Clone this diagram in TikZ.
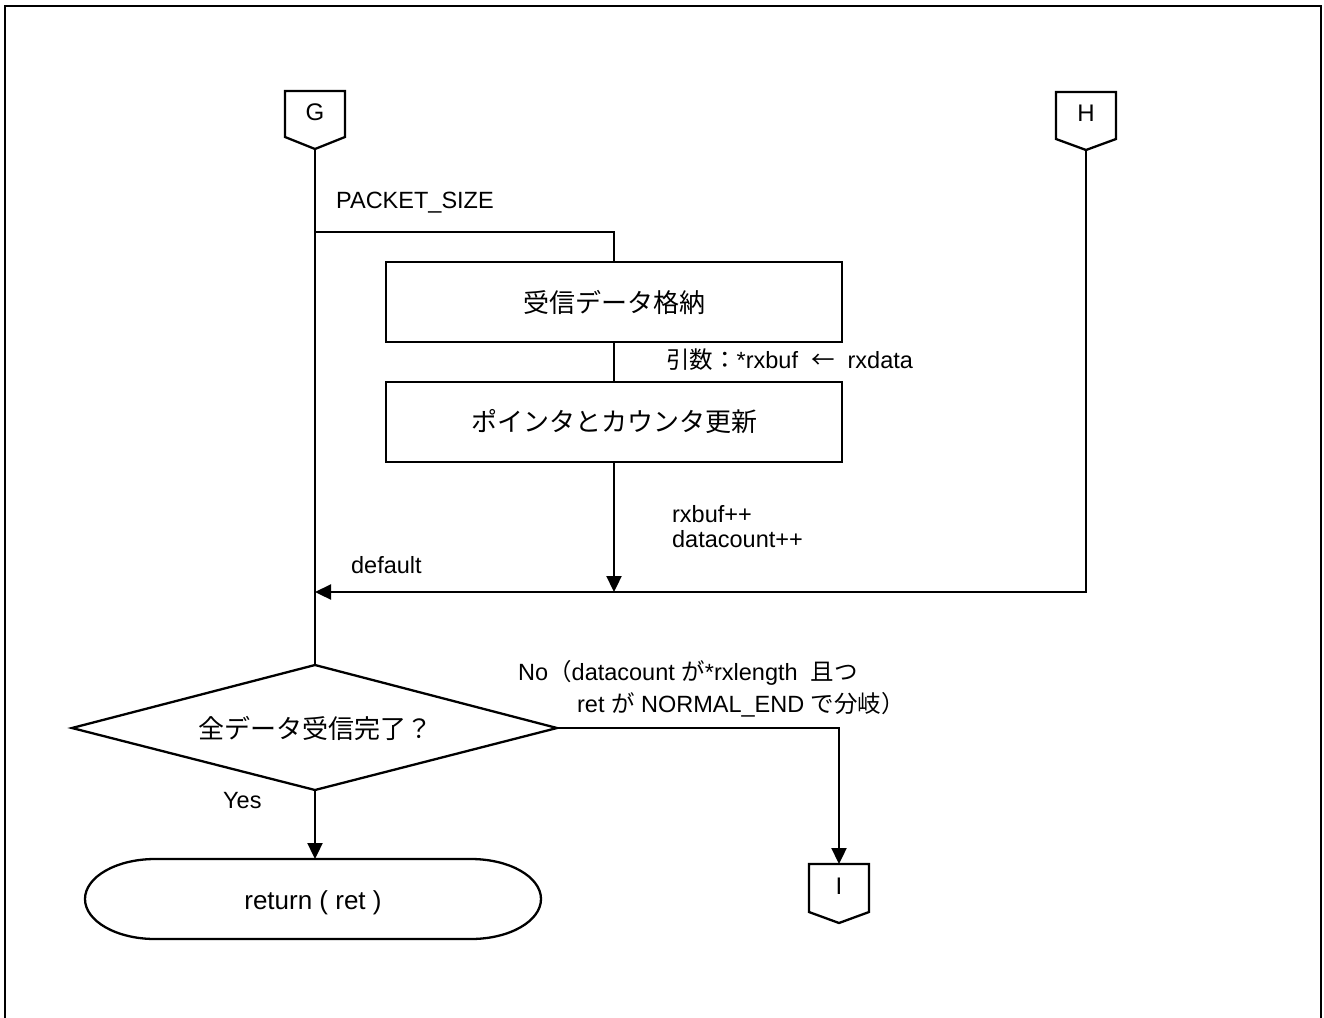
\documentclass[tikz,border=0pt]{standalone}
\usepackage{fontspec}
\setmainfont{Liberation Sans}
\newfontfamily\cjk{Noto Sans CJK JP}
\usetikzlibrary{arrows.meta}
\begin{document}
\begin{tikzpicture}[x=1pt,y=-1pt,line width=2.3pt,
  lbl/.style={font=\fontsize{23.5}{27}\selectfont,anchor=base west,inner sep=0pt},
  boxtxt/.style={font=\fontsize{26}{30}\selectfont},
  proc/.style={draw,minimum width=456pt,minimum height=80pt,inner sep=0pt,boxtxt},
  conn/.style={font=\fontsize{24}{28}\selectfont,inner sep=0pt},
  arr/.style={-{Triangle[length=16pt,width=15pt]}}]
\useasboundingbox (0,0) rectangle (1324,1017);
\draw[line width=2.5pt] (5,6) rectangle (1321,1040);

% off-page connectors
\draw (285,91) -- (345,91) -- (345,137) -- (315,149) -- (285,137) -- cycle;
\node[conn] (G) at (315,112) {G};
\coordinate (Gtip) at (315,149);
\draw (1056,92) -- (1116,92) -- (1116,139) -- (1086,150) -- (1056,139) -- cycle;
\node[conn] (H) at (1086,113) {H};
\coordinate (Htip) at (1086,150);
\draw (809,864) -- (869,864) -- (869,912) -- (839,923) -- (809,912) -- cycle;
\node[conn] (I) at (839,886) {I};
\coordinate (Itop) at (839,864);

% process boxes
\node[proc] (B1) at (614,302) {\cjk 受信データ格納};
\node[proc] (B2) at (614,422) {\cjk ポインタとカウンタ更新};

% decision
\coordinate (Dt) at (315,665);
\coordinate (Dr) at (557,728);
\coordinate (Db) at (315,790);
\coordinate (Dl) at (72,728);
\draw (Dt) -- (Dr) -- (Db) -- (Dl) -- cycle;
\node[boxtxt] (D) at (315,728) {\cjk 全データ受信完了？};

% terminal
\draw (155,859) .. controls (116.4,859) and (85,876.9) .. (85,899)
  .. controls (85,921.1) and (116.4,939) .. (155,939) -- (471,939)
  .. controls (509.6,939) and (541,921.1) .. (541,899)
  .. controls (541,876.9) and (509.6,859) .. (471,859) -- cycle;
\node[boxtxt] (T) at (313,903) {return ( ret )};
\coordinate (Ttop) at (315,859);

% connectors
\coordinate (br) at (315,232);
\coordinate (mrg) at (614,592);
\coordinate (mrgG) at (315,592);
\draw (Gtip) -- (Dt);
\draw (br) -| (B1.north);
\draw (B1.south) -- (B2.north);
\draw[arr] (B2.south) -- (mrg);
\draw[arr] (Htip) |- (mrgG);
\draw[arr] (Dr) -| (Itop);
\draw[arr] (Db) -- (Ttop);

% labels
\node[lbl] (l1) at (335,208) {PACKET\_SIZE};
\node[lbl] (l2) at (665,368) {{\cjk 引数：}*rxbuf\ \ {\cjk ←}\ \ rxdata};
\node[lbl] (l3) at (671,522) {rxbuf++};
\node[lbl] (l4) at (671,547) {datacount++};
\node[lbl] (l5) at (350,573) {default};
\node[lbl] (l6) at (517,680) {No{\cjk （}datacount {\cjk が}*rxlength\ \ {\cjk 且つ}};
\node[lbl] (l7) at (576,712) {ret {\cjk が} NORMAL\_END {\cjk で分岐）}};
\node[lbl] (l8) at (222,808) {Yes};
\end{tikzpicture}
\end{document}
